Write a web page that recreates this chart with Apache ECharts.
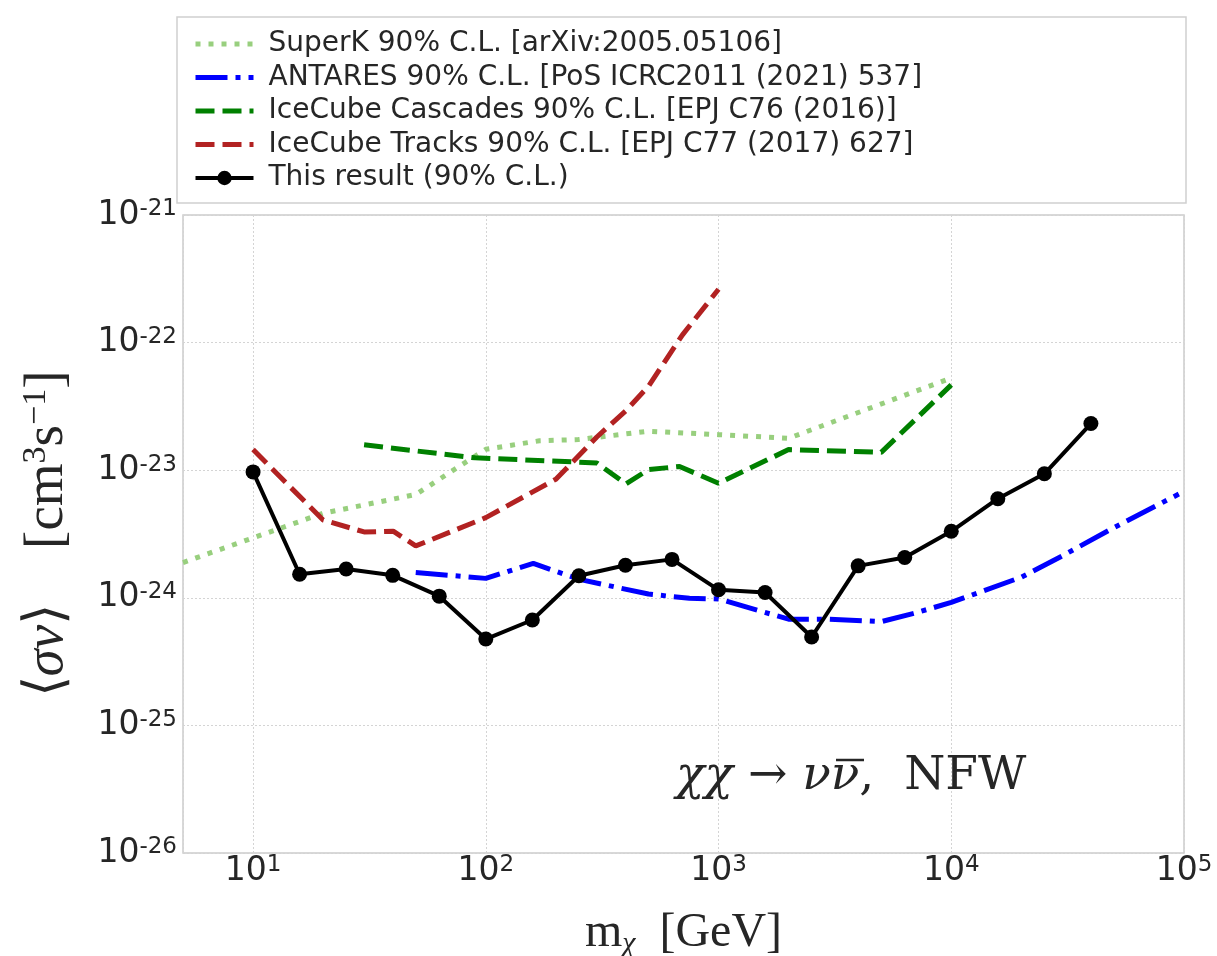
<!DOCTYPE html>
<html>
<head>
<meta charset="utf-8">
<title>Dark matter annihilation limits</title>
<script src="https://cdn.jsdelivr.net/npm/echarts@6/dist/echarts.min.js"></script>
<style>
  html, body { margin: 0; padding: 0; background: #ffffff; }
  #chart { width: 1217px; height: 956px; }
</style>
</head>
<body>
<div id="chart"></div>
<script>
// Dark matter mass [GeV] and 90% C.L. upper limits on <sigma v> [cm^3 s^-1]
const superkMass = [5, 10, 20, 50, 100, 170, 250, 500, 1000, 2000, 10000];
const superkLimit = [1.89e-24, 2.95e-24, 4.6e-24, 6.45e-24, 1.46e-23, 1.70e-23, 1.74e-23, 2.02e-23, 1.90e-23, 1.78e-23, 5.27e-23];

const antaresMass = [50, 100, 160, 250, 500, 750, 1000, 1500, 2000, 3000, 5000, 7000, 10000, 20000, 30000, 50000, 95000];
const antaresLimit = [1.58e-24, 1.42e-24, 1.86e-24, 1.40e-24, 1.07e-24, 9.9e-25, 9.8e-25, 7.9e-25, 6.8e-25, 6.8e-25, 6.5e-25, 7.6e-25, 9.2e-25, 1.45e-24, 2.13e-24, 3.55e-24, 6.5e-24];

const cascadesMass = [30, 90, 300, 400, 500, 680, 1000, 2000, 5000, 10000];
const cascadesLimit = [1.58e-23, 1.25e-23, 1.14e-23, 7.8e-24, 1.01e-23, 1.07e-23, 7.9e-24, 1.45e-23, 1.38e-23, 4.66e-23];

const tracksMass = [10, 20, 30, 40, 50, 100, 200, 300, 400, 500, 700, 1000];
const tracksLimit = [1.45e-23, 4.07e-24, 3.28e-24, 3.33e-24, 2.55e-24, 4.25e-24, 8.5e-24, 1.82e-23, 2.93e-23, 4.55e-23, 1.15e-22, 2.62e-22];

const resultMass = [10, 15.85, 25.12, 39.81, 63.1, 100, 158.5, 251.2, 398.1, 631, 1000, 1585, 2512, 3981, 6310, 10000, 15849, 25119, 39811];
const resultLimit = [9.7e-24, 1.53e-24, 1.68e-24, 1.50e-24, 1.03e-24, 4.75e-25, 6.7e-25, 1.49e-24, 1.80e-24, 2.0e-24, 1.155e-24, 1.10e-24, 4.93e-25, 1.78e-24, 2.07e-24, 3.32e-24, 5.98e-24, 9.37e-24, 2.32e-23];

const seriesNames = [
  'SuperK 90% C.L. [arXiv:2005.05106]',
  'ANTARES 90% C.L. [PoS ICRC2011 (2021) 537]',
  'IceCube Cascades 90% C.L. [EPJ C76 (2016)]',
  'IceCube Tracks 90% C.L. [EPJ C77 (2017) 627]',
  'This result (90% C.L.)'
];

const xRange = [5, 1e5];
const yRange = [1e-26, 1e-21];

// The value axis works in units of 1e-26 cm^3 s^-1 to stay clear of
// floating-point rounding limits; tick labels show the true exponent.
const Y_UNIT_EXP = -26;
const yUnit = Math.pow(10, Y_UNIT_EXP);
const toAxis = v => v / yUnit;

function pairs(xs, ys) { return xs.map((x, i) => [x, toAxis(ys[i])]); }
function isDecade(v) {
  const l = Math.log10(v);
  return Math.abs(l - Math.round(l)) < 1e-6;
}

const textColor = '#262626';
const tickRich = {
  b: { fontFamily: 'DejaVu Sans', fontSize: 33, color: textColor, lineHeight: 34 },
  s: { fontFamily: 'DejaVu Sans', fontSize: 23, color: textColor, verticalAlign: 'top', lineHeight: 20 }
};

const chart = echarts.init(document.getElementById('chart'), null, { renderer: 'canvas' });

const refLine = (name, xs, ys, color, dash, width) => ({
  name: name,
  type: 'line',
  data: pairs(xs, ys),
  symbol: 'none',
  showSymbol: false,
  clip: true,
  lineStyle: { color: color, width: width, type: dash, cap: 'butt' },
  itemStyle: { color: color },
  emphasis: { disabled: true },
  animation: false
});

const legendEntry = (name, width, hideMarker) => ({
  name: name,
  lineStyle: { width: width },
  itemStyle: hideMarker ? { opacity: 0 } : {}
});

chart.setOption({
  animation: false,
  backgroundColor: '#ffffff',
  grid: {
    left: 183, top: 215, width: 1001, height: 638,
    outerBoundsMode: 'none',
    containLabel: false,
    show: true, borderColor: '#cccccc', borderWidth: 1.5, backgroundColor: '#ffffff'
  },
  graphic: [
    {
      type: 'rect', z: -10,
      shape: { x: 177, y: 17, width: 1009, height: 186 },
      style: { fill: '#ffffff', stroke: '#d0d0d0', lineWidth: 1.5 }
    },
    {
      type: 'text', left: 676, top: 753, z: 10,
      style: {
        text: '{i|χχ}{r| → }{i|νν}{r|,  NFW}',
        rich: {
          i: { fontFamily: 'DejaVu Serif', fontStyle: 'italic', fontSize: 47, fill: textColor },
          r: { fontFamily: 'DejaVu Serif', fontSize: 47, fill: textColor }
        }
      }
    },
    {
      // bar over the antineutrino
      type: 'line', z: 10,
      shape: { x1: 836, y1: 760, x2: 864, y2: 760 },
      style: { stroke: textColor, lineWidth: 2.5 }
    }
  ],
  legend: {
    left: 188, top: 24,
    orient: 'vertical',
    itemWidth: 58, itemHeight: 18,
    itemGap: 3.5,
    selectedMode: false,
    data: [
      legendEntry(seriesNames[0], 5, true),
      legendEntry(seriesNames[1], 5, true),
      legendEntry(seriesNames[2], 5, true),
      legendEntry(seriesNames[3], 5, true),
      legendEntry(seriesNames[4], 4, false)
    ],
    textStyle: {
      fontFamily: 'DejaVu Sans', fontSize: 28, color: textColor,
      lineHeight: 30, padding: [0, 0, 0, 10]
    }
  },
  xAxis: {
    type: 'log', logBase: 10,
    min: xRange[0], max: xRange[1],
    axisLine: { show: false },
    axisTick: { show: false },
    splitLine: { show: true, lineStyle: { color: '#d4d4d4', width: 1, type: [2, 2] } },
    axisLabel: {
      margin: 1,
      formatter: v => isDecade(v) ? '{b|10}{s|' + Math.round(Math.log10(v)) + '}' : '',
      rich: tickRich
    },
    name: '{m|m}{sub|χ}{m|  [GeV]}',
    nameLocation: 'middle',
    nameGap: 54,
    nameTextStyle: {
      rich: {
        m: { fontFamily: 'Liberation Serif', fontSize: 48, color: textColor, lineHeight: 52 },
        sub: { fontFamily: 'Liberation Serif', fontStyle: 'italic', fontSize: 30, color: textColor, lineHeight: 26, verticalAlign: 'bottom' }
      }
    }
  },
  yAxis: {
    type: 'log', logBase: 10,
    min: toAxis(yRange[0]), max: toAxis(yRange[1]),
    axisLine: { show: false },
    axisTick: { show: false },
    splitLine: { show: true, lineStyle: { color: '#d4d4d4', width: 1, type: [2, 2] } },
    axisLabel: {
      margin: 6,
      formatter: v => '{b|10}{s|-' + Math.abs(Math.round(Math.log10(v)) + Y_UNIT_EXP) + '}',
      rich: tickRich
    },
    name: '{t|⟨}{i|σv}{t|⟩    [cm}{s|3}{t|s}{s|−1}{t|]}',
    nameLocation: 'middle',
    nameRotate: 90,
    nameGap: 106,
    nameTextStyle: {
      rich: {
        t: { fontFamily: 'Liberation Serif', fontSize: 55, color: textColor, lineHeight: 58 },
        i: { fontFamily: 'Liberation Serif', fontStyle: 'italic', fontSize: 55, color: textColor, lineHeight: 58 },
        s: { fontFamily: 'Liberation Serif', fontSize: 34, color: textColor, lineHeight: 30, verticalAlign: 'top' }
      }
    }
  },
  series: [
    refLine(seriesNames[0], superkMass, superkLimit, '#98cf7e', [5, 8], 5),
    refLine(seriesNames[1], antaresMass, antaresLimit, '#0000ff', [32, 8, 5, 8], 5),
    refLine(seriesNames[2], cascadesMass, cascadesLimit, '#008000', [19, 8], 5),
    refLine(seriesNames[3], tracksMass, tracksLimit, '#b22222', [19, 8], 5),
    {
      name: seriesNames[4],
      type: 'line',
      data: pairs(resultMass, resultLimit),
      symbol: 'circle',
      symbolSize: 15,
      showSymbol: true,
      lineStyle: { color: '#000000', width: 4 },
      itemStyle: { color: '#000000' },
      emphasis: { disabled: true },
      animation: false
    }
  ]
});
</script>
</body>
</html>
